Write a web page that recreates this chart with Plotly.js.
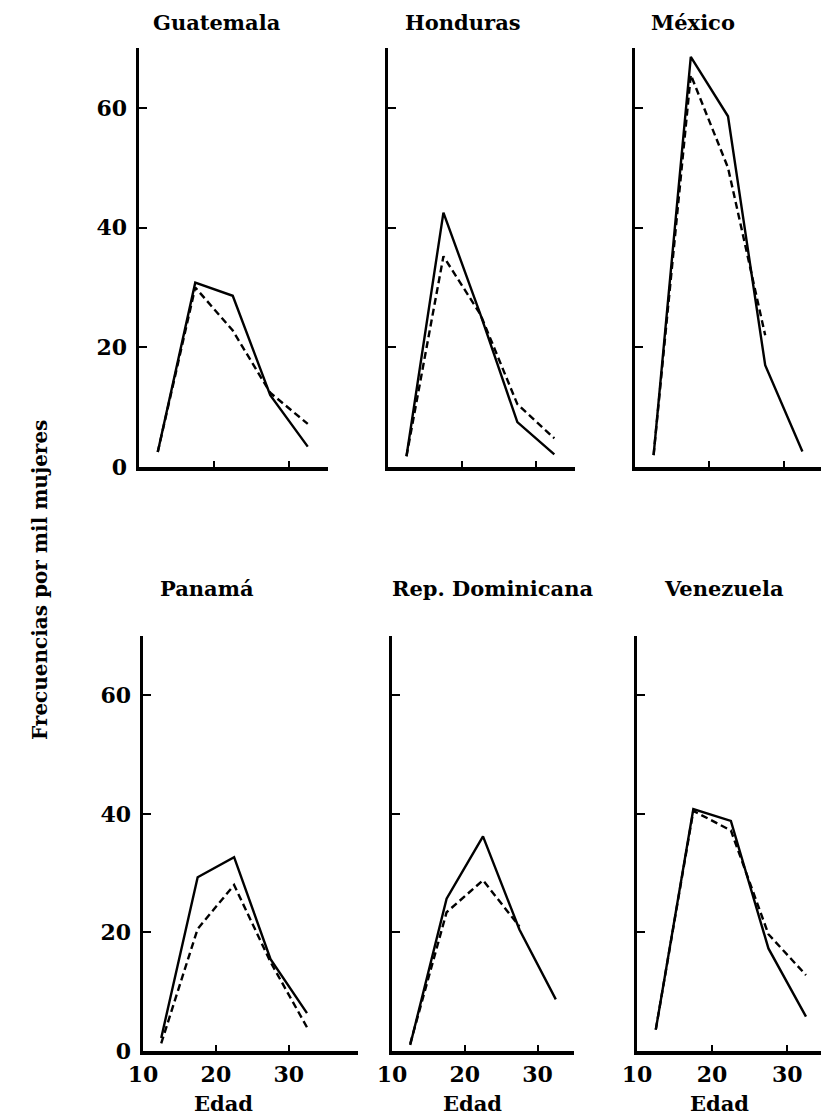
<!DOCTYPE html>
<html>
<head>
<meta charset="utf-8">
<script src="https://cdn.plot.ly/plotly-3.0.1.min.js"></script>
<style>
  html, body { margin: 0; padding: 0; background: #ffffff; }
  #chart { width: 821px; height: 1118px; }
</style>
</head>
<body>
<div id="chart"></div>
<script>
// Age-group midpoints (years)
const ages = [12.5, 17.5, 22.5, 27.5, 32.5];

// Panel names
const countries = ['Guatemala', 'Honduras', 'México', 'Panamá', 'Rep. Dominicana', 'Venezuela'];

// Rates per thousand women, solid line series
const guatemalaSolid   = [2.5, 30.8, 28.6, 12.0, 3.4];
const hondurasSolid    = [1.8, 42.5, 25.5, 7.5, 2.1];
const mexicoSolid      = [2.0, 68.5, 58.6, 17.0, 2.6];
const panamaSolid      = [2.2, 29.3, 32.7, 15.5, 6.4];
const repDomSolid      = [1.0, 25.7, 36.2, 20.5, 8.7];
const venezuelaSolid   = [3.6, 40.8, 38.8, 17.3, 5.8];

// Rates per thousand women, dashed line series
const guatemalaDashed  = [2.5, 30.0, 22.8, 12.4, 7.2];
const hondurasDashed   = [1.8, 35.2, 25.5, 10.5, 4.8];
const mexicoDashed     = [2.0, 65.5, 50.0, 22.0];
const panamaDashed     = [1.3, 20.6, 28.0, 15.0, 4.0];
const repDomDashed     = [1.2, 23.4, 28.8, 21.0];
const venezuelaDashed  = [3.6, 40.5, 37.2, 19.7, 12.8];

// Axis ticks
const yTicks = [0, 20, 40, 60];
const yTickText = ['0', '20', '40', '60'];
const xTicks = [10, 20, 30];
const xTickText = ['10', '20', '30'];

const yAxisTitle = 'Frecuencias por mil mujeres';
const xAxisTitle = 'Edad';

const solidSeries = [guatemalaSolid, hondurasSolid, mexicoSolid, panamaSolid, repDomSolid, venezuelaSolid];
const dashedSeries = [guatemalaDashed, hondurasDashed, mexicoDashed, panamaDashed, repDomDashed, venezuelaDashed];

// ---- layout geometry (pixels) ----
const W = 821, H = 1118;
const fx = v => v / W;
const fy = v => 1 - v / H;

const panels = [
  { xd: [139, 328], xr: [10, 35.2], yd: [48, 467] },
  { xd: [388, 575], xr: [10, 35.3], yd: [48, 467] },
  { xd: [635, 821], xr: [10, 35.0], yd: [48, 467] },
  { xd: [143, 358], xr: [10, 39.5], yd: [636, 1051] },
  { xd: [392, 574], xr: [10, 35.0], yd: [636, 1051] },
  { xd: [637, 821], xr: [10, 34.5], yd: [636, 1051] }
];

const titlePos = [
  [217, 22], [463, 22], [693, 22],
  [207, 588], [493, 588], [724, 588]
];

const serif = 'DejaVu Serif, Liberation Serif, serif';
const tickFont = { family: serif, size: 22, color: '#000', weight: 'bold' };

const traces = [];
const layout = {
  width: W, height: H,
  margin: { l: 0, r: 0, t: 0, b: 0 },
  paper_bgcolor: '#ffffff',
  plot_bgcolor: 'rgba(0,0,0,0)',
  showlegend: false,
  annotations: []
};

panels.forEach((p, i) => {
  const n = i + 1;
  const xa = n === 1 ? 'x' : 'x' + n;
  const ya = n === 1 ? 'y' : 'y' + n;
  const leftCol = (i === 0 || i === 3);
  const bottomRow = i >= 3;

  traces.push({
    type: 'scatter', mode: 'lines', name: countries[i] + ' (continua)',
    x: ages.slice(0, solidSeries[i].length), y: solidSeries[i],
    xaxis: xa, yaxis: ya,
    line: { color: '#000', width: 2.4 },
    hoverinfo: 'skip'
  });
  traces.push({
    type: 'scatter', mode: 'lines', name: countries[i] + ' (discontinua)',
    x: ages.slice(0, dashedSeries[i].length), y: dashedSeries[i],
    xaxis: xa, yaxis: ya,
    line: { color: '#000', width: 2.4, dash: '7px,4px' },
    hoverinfo: 'skip'
  });

  layout['xaxis' + (n === 1 ? '' : n)] = {
    domain: [fx(p.xd[0]), fx(p.xd[1])],
    range: p.xr,
    anchor: ya,
    showgrid: false, zeroline: false,
    showline: true, linecolor: '#000', linewidth: 3.5,
    ticks: 'inside', ticklen: 6, tickwidth: 2, tickcolor: '#000',
    tickvals: xTicks, ticktext: xTickText,
    showticklabels: bottomRow,
    ticklabelstandoff: 1,
    tickfont: tickFont,
    fixedrange: true
  };
  layout['yaxis' + (n === 1 ? '' : n)] = {
    domain: [fy(p.yd[1]), fy(p.yd[0])],
    range: [0, 70],
    anchor: xa,
    showgrid: false, zeroline: false,
    showline: true, linecolor: '#000', linewidth: 3.5,
    ticks: 'inside', ticklen: 8, tickwidth: 2, tickcolor: '#000',
    tickvals: yTicks, ticktext: yTickText,
    showticklabels: leftCol,
    ticklabelstandoff: 4,
    tickfont: tickFont,
    fixedrange: true
  };

  layout.annotations.push({
    text: countries[i], xref: 'paper', yref: 'paper',
    x: fx(titlePos[i][0]), y: fy(titlePos[i][1]),
    xanchor: 'center', yanchor: 'middle', showarrow: false,
    font: { family: serif, size: 21, color: '#000', weight: 'bold' }
  });

  if (bottomRow) {
    layout.annotations.push({
      text: xAxisTitle, xref: xa, yref: 'paper',
      x: 21, y: fy(1103),
      xanchor: 'center', yanchor: 'middle', showarrow: false,
      font: { family: serif, size: 21, color: '#000', weight: 'bold' }
    });
  }
});

layout.annotations.push({
  text: yAxisTitle, xref: 'paper', yref: 'paper',
  x: fx(40), y: fy(580), textangle: -90,
  xanchor: 'center', yanchor: 'middle', showarrow: false,
  font: { family: serif, size: 20, color: '#000', weight: 'bold' }
});

Plotly.newPlot('chart', traces, layout, { staticPlot: true, displayModeBar: false });
</script>
</body>
</html>
